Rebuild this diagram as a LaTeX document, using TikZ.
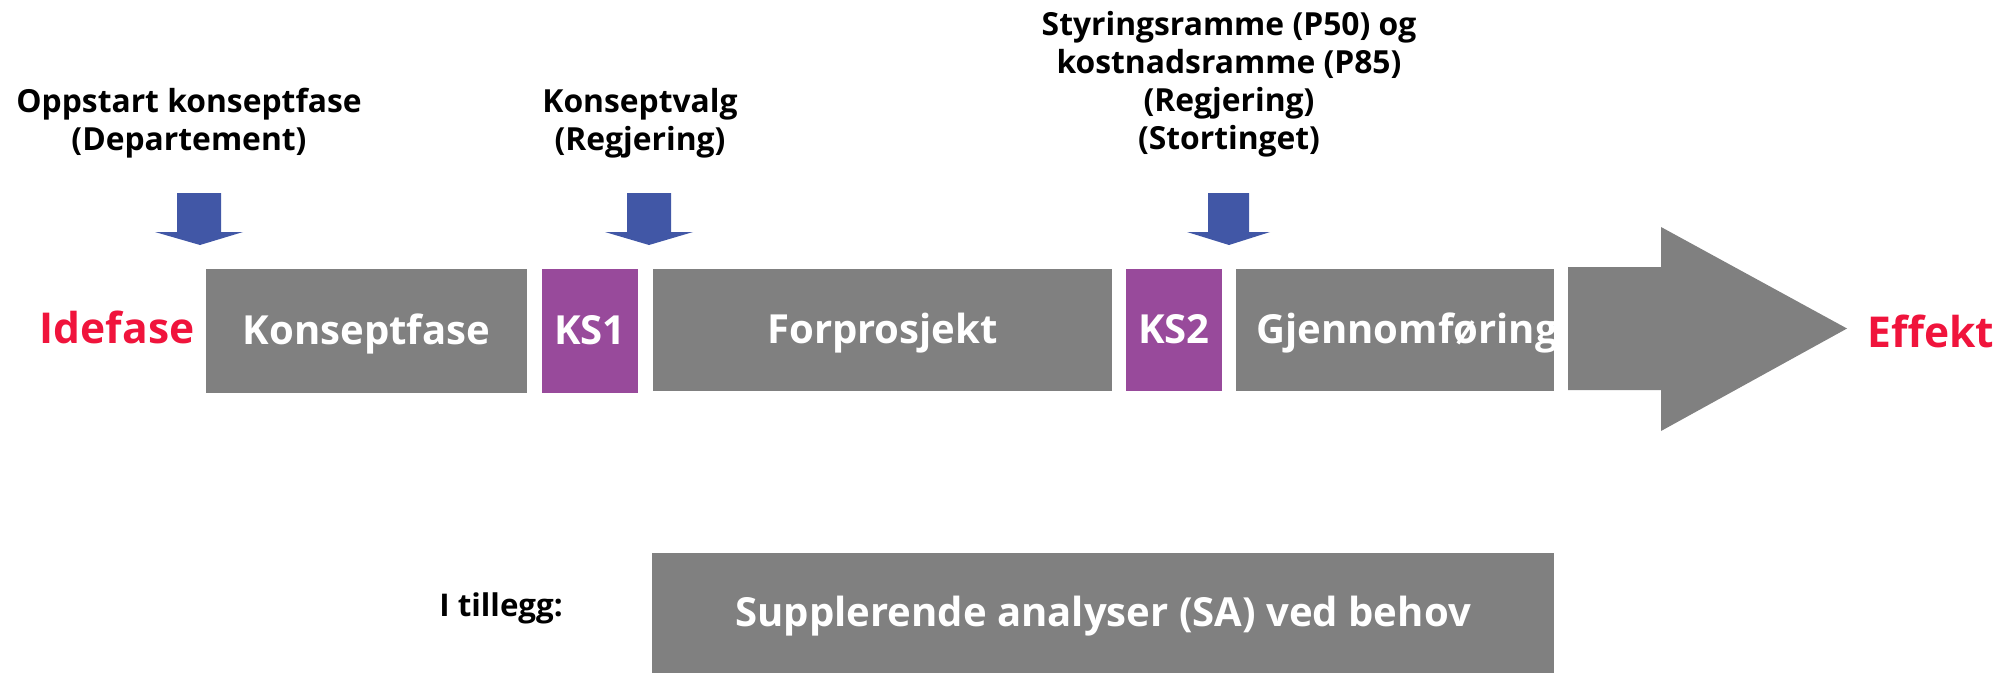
\documentclass[tikz,border=0pt]{standalone}
\usepackage{fontspec}
\setmainfont{Open Sans}
\begin{document}
\begin{tikzpicture}[x=0.2mm,y=-0.2mm,
  boxfont/.style={font=\bfseries\fontsize{22.8}{27}\selectfont,text height=19.5pt,text depth=3.6pt},
  gbox/.style={fill=boxgray,inner sep=0pt,text=white,boxfont},
  pbox/.style={fill=kspurple,inner sep=0pt,text=white,boxfont},
  lbl/.style={inner sep=0pt,align=center,anchor=north,font=\bfseries\fontsize{18.1}{21.6}\selectfont},
  endlbl/.style={inner sep=0pt,anchor=base,text=effred,font=\bfseries\fontsize{24.2}{28}\selectfont},
  down/.style={fill=arrblue}]
\definecolor{boxgray}{RGB}{128,128,128}
\definecolor{kspurple}{RGB}{152,74,155}
\definecolor{arrblue}{RGB}{65,87,166}
\definecolor{effred}{RGB}{240,20,60}
\useasboundingbox (0,0) rectangle (2002,672);

% phase boxes
\node[gbox,minimum width=321*0.2mm,minimum height=124*0.2mm] (konsept) at (366.5,331) {Konseptfase};
\node[pbox,minimum width=96*0.2mm,minimum height=124*0.2mm] (ks1) at (590,331) {KS1};
\node[gbox,minimum width=459*0.2mm,minimum height=122*0.2mm] (forpro) at (882.5,330) {Forprosjekt};
\node[pbox,minimum width=96*0.2mm,minimum height=122*0.2mm] (ks2) at (1174,330) {KS2};
\node[gbox,minimum width=318*0.2mm,minimum height=122*0.2mm] (gjenn) at (1395,330) {};
\begin{scope}
  \clip (gjenn.north west) rectangle (gjenn.south east);
  \node[gbox,fill=none,anchor=west] (gjenntxt) at (1256,330) {Gjennomføring};
\end{scope}

% big arrow
\fill[boxgray] (1568,267) -- (1661,267) -- (1661,227) -- (1847,328.5) -- (1661,431) -- (1661,390) -- (1568,390) -- cycle;

% end labels
\node[endlbl] (idefase) at (117,343) {Idefase};
\node[endlbl] (effekt) at (1931,347) {Effekt};

% decision labels
\node[lbl] (oppstart) at (189,88) {Oppstart konseptfase\\(Departement)};
\node[lbl] (valg) at (640,88) {Konseptvalg\\(Regjering)};
\node[lbl] (ramme) at (1229,11) {Styringsramme (P50) og\\kostnadsramme (P85)\\(Regjering)\\(Stortinget)};

% blue arrows
\fill[arrblue] (177,193) -- (221,193) -- (221,232) -- (243,232) -- (200,245) -- (155,232) -- (177,232) -- cycle;
\fill[arrblue] (627,193) -- (671,193) -- (671,232) -- (693,232) -- (649,245) -- (605,232) -- (627,232) -- cycle;
\fill[arrblue] (1208,193) -- (1249,193) -- (1249,232) -- (1270,232) -- (1229,245) -- (1187,232) -- (1208,232) -- cycle;

% bottom
\node[gbox,minimum width=902*0.2mm,minimum height=120*0.2mm] (sa) at (1103,613) {Supplerende analyser (SA) ved behov};
\node[inner sep=0pt,anchor=base west,font=\bfseries\fontsize{17.8}{21}\selectfont] (tillegg) at (439,616) {I tillegg:};
\end{tikzpicture}
\end{document}
